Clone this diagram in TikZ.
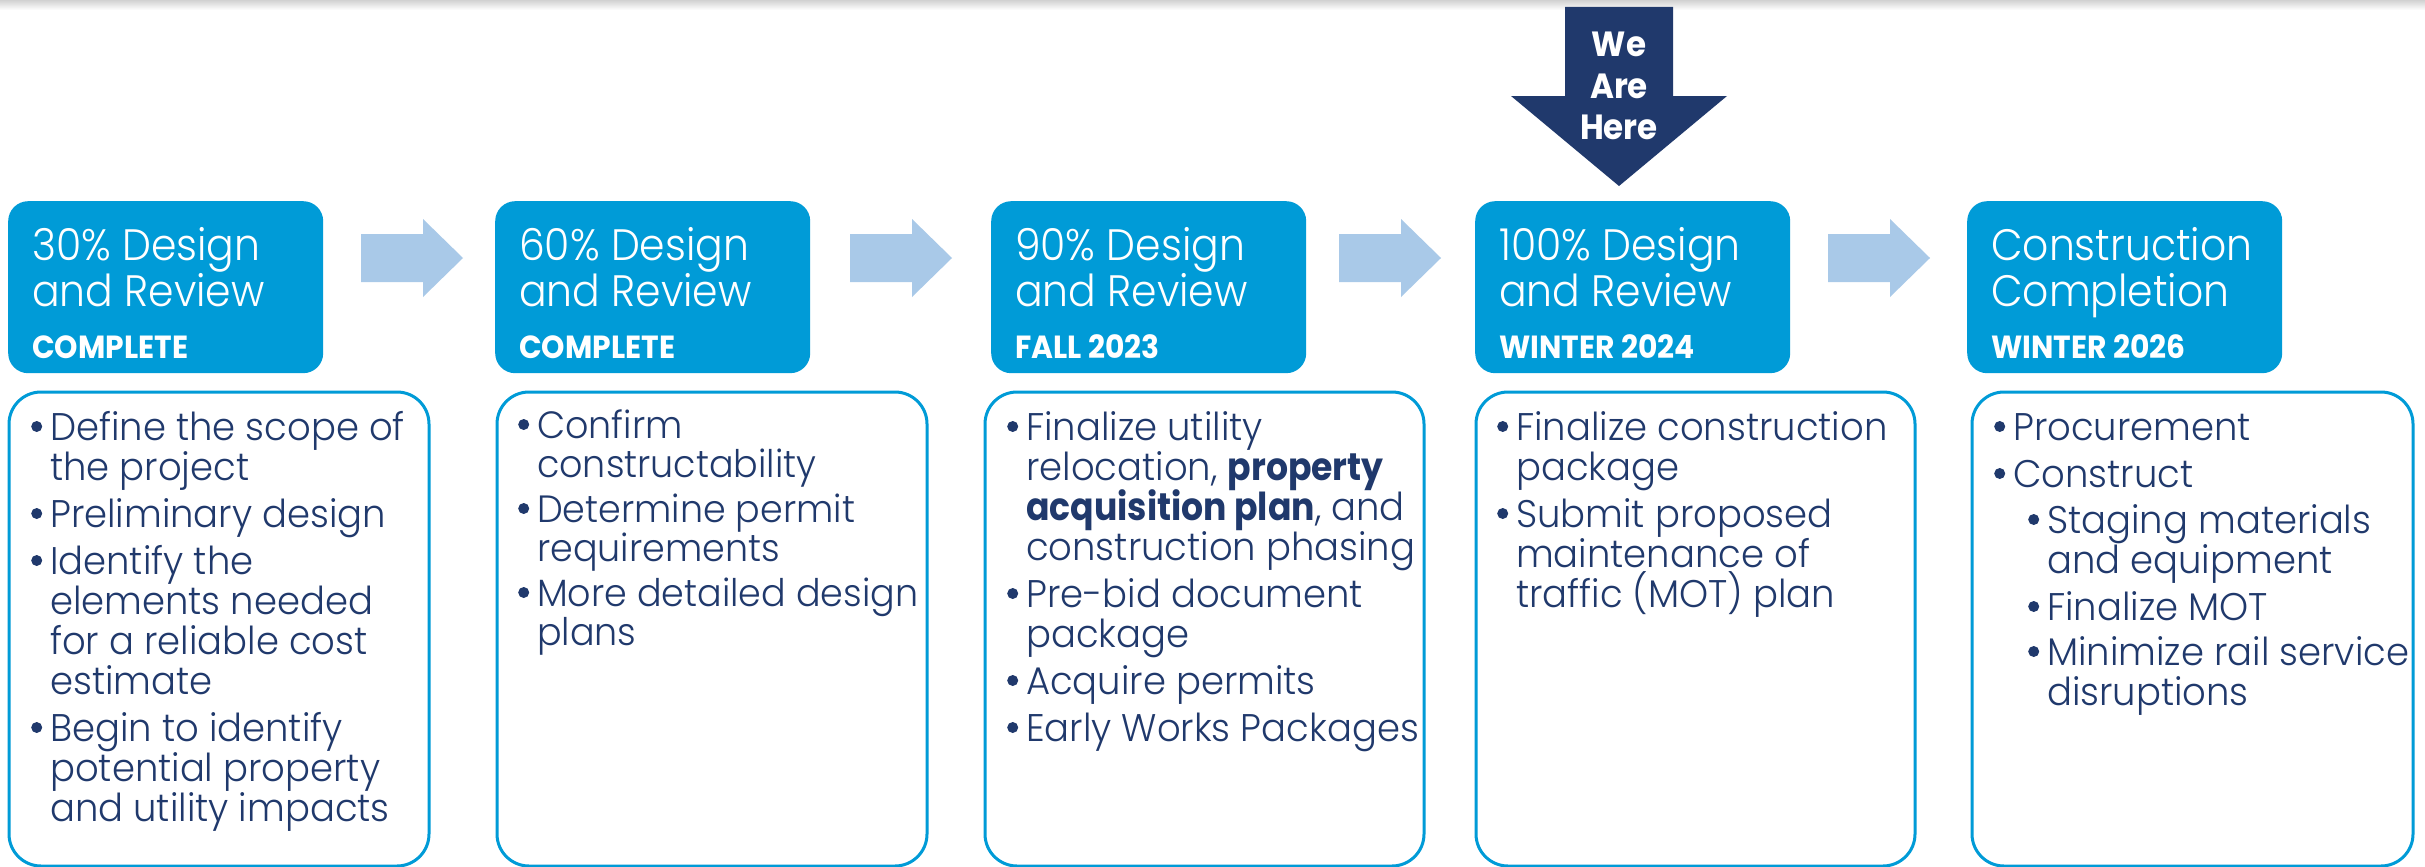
\documentclass[tikz,border=0pt]{standalone}
\usepackage{fontspec}
\setmainfont{Poppins}[UprightFont=* Light, BoldFont=* Bold, FakeStretch=0.93]
\newfontfamily\bodyfont{Poppins}[UprightFont=* Light, BoldFont=* Bold, FakeStretch=0.96, BoldFeatures={FakeStretch=0.9}]
\definecolor{hdrblue}{RGB}{0,155,215}
\definecolor{navy}{RGB}{32,57,108}
\definecolor{lightarr}{RGB}{169,201,232}
\newcommand\bl{\makebox[19pt][l]{\raisebox{8pt}{\tikz\fill[navy] (0,0) circle (5.5pt);}}}
\newcommand\cl{\hspace*{19pt}}
\newcommand\lns[1]{\parbox[t]{600pt}{\lineskiplimit=-300pt\relax #1}}
\tikzset{
  hdrbox/.style={anchor=north west, fill=hdrblue, rounded corners=20pt, minimum width=315pt, minimum height=172pt, inner sep=0pt},
  hdrtitle/.style={anchor=base west, inner sep=0pt, text=white, font=\fontsize{44}{46}\selectfont},
  hdrsub/.style={anchor=base west, inner sep=0pt, text=white, font=\bfseries\fontsize{32}{32}\selectfont},
  bodybox/.style={anchor=north west, draw=hdrblue, line width=3pt, rounded corners=32pt, minimum height=474pt, inner sep=0pt},
  bodytxt/.style={anchor=base west, inner sep=0pt, text=navy, font=\bodyfont\fontsize{38.5}{40}\selectfont},
  flowarrow/.style={fill=lightarr},
}
\begin{document}
\begin{tikzpicture}[x=1pt,y=-1pt]
\useasboundingbox (0,0) rectangle (2425,867);
\fill[white] (0,0) rectangle (2425,867);
\shade[top color=black!18, bottom color=white] (0,0) rectangle (2425,10);

% header boxes
\node[hdrbox] (h1) at (8,201) {};
\node[hdrbox] (h2) at (495,201) {};
\node[hdrbox] (h3) at (991,201) {};
\node[hdrbox] (h4) at (1475,201) {};
\node[hdrbox] (h5) at (1967,201) {};

\node[hdrtitle] (h1t) at (32,260) {\lns{30\% Design\\and Review}};
\node[hdrtitle] (h2t) at (519,260) {\lns{60\% Design\\and Review}};
\node[hdrtitle] (h3t) at (1015,260) {\lns{90\% Design\\and Review}};
\node[hdrtitle] (h4t) at (1499,260) {\lns{100\% Design\\and Review}};
\node[hdrtitle] (h5t) at (1991,260) {\lns{Construction\\Completion}};

\node[hdrsub] (h1s) at (32,358) {COMPLETE};
\node[hdrsub] (h2s) at (519,358) {COMPLETE};
\node[hdrsub] (h3s) at (1015,358) {FALL 2023};
\node[hdrsub] (h4s) at (1499,358) {WINTER 2024};
\node[hdrsub] (h5s) at (1991,358) {WINTER 2026};

% flow arrows
\foreach \x in {361,850,1339,1828}{
  \fill[flowarrow] (\x,234) -- (\x+62,234) -- (\x+62,219) -- (\x+102,258) -- (\x+62,297) -- (\x+62,282) -- (\x,282) -- cycle;
}

% we are here
\fill[navy] (1565,7) -- (1673,7) -- (1673,96) -- (1727,96) -- (1619,186) -- (1511,96) -- (1565,96) -- cycle;
\node[anchor=base, inner sep=0pt, text=white, font=\bfseries\fontsize{35}{41}\selectfont] (here) at (1619,57)
  {\parbox[t]{200pt}{\centering\lineskiplimit=-300pt\relax We\\Are\\Here}};

% body boxes
\node[bodybox, minimum width=420pt] (b1) at (7.5,390.5) {};
\node[bodybox, minimum width=430pt] (b2) at (495.5,390.5) {};
\node[bodybox, minimum width=439pt] (b3) at (983.5,390.5) {};
\node[bodybox, minimum width=439pt] (b4) at (1474.5,390.5) {};
\node[bodybox, minimum width=441pt] (b5) at (1970.5,390.5) {};

\node[bodytxt] (t1) at (31,440) {\lns{\bl Define the scope of\\\cl the project\\[7pt]
\bl Preliminary design\\[7pt]
\bl Identify the\\\cl elements needed\\\cl for a reliable cost\\\cl estimate\\[7pt]
\bl Begin to identify\\\cl potential property\\\cl and utility impacts}};

\node[bodytxt, font=\bodyfont\fontsize{38}{39}\selectfont] (t2) at (518,438) {\lns{\bl Confirm\\\cl constructability\\[6pt]
\bl Determine permit\\\cl requirements\\[6pt]
\bl More detailed design\\\cl plans}};

\node[bodytxt] (t3) at (1007,440) {\lns{\bl Finalize utility\\\cl relocation, \textbf{property}\\\cl \textbf{acquisition plan}, and\\\cl construction phasing\\[7pt]
\bl Pre-bid document\\\cl package\\[7pt]
\bl Acquire permits\\[7pt]
\bl Early Works Packages}};

\node[bodytxt] (t4) at (1497,440) {\lns{\bl Finalize construction\\\cl package\\[7pt]
\bl Submit proposed\\\cl maintenance of\\\cl traffic (MOT) plan}};

\node[bodytxt] (t5) at (1994,440) {\lns{\bl Procurement\\[7pt]
\bl Construct\\[6pt]
\hspace*{34pt}\bl Staging materials\\\hspace*{53pt}and equipment\\[7pt]
\hspace*{34pt}\bl Finalize MOT\\[5pt]
\hspace*{34pt}\bl Minimize rail service\\\hspace*{53pt}disruptions}};
\end{tikzpicture}
\end{document}
